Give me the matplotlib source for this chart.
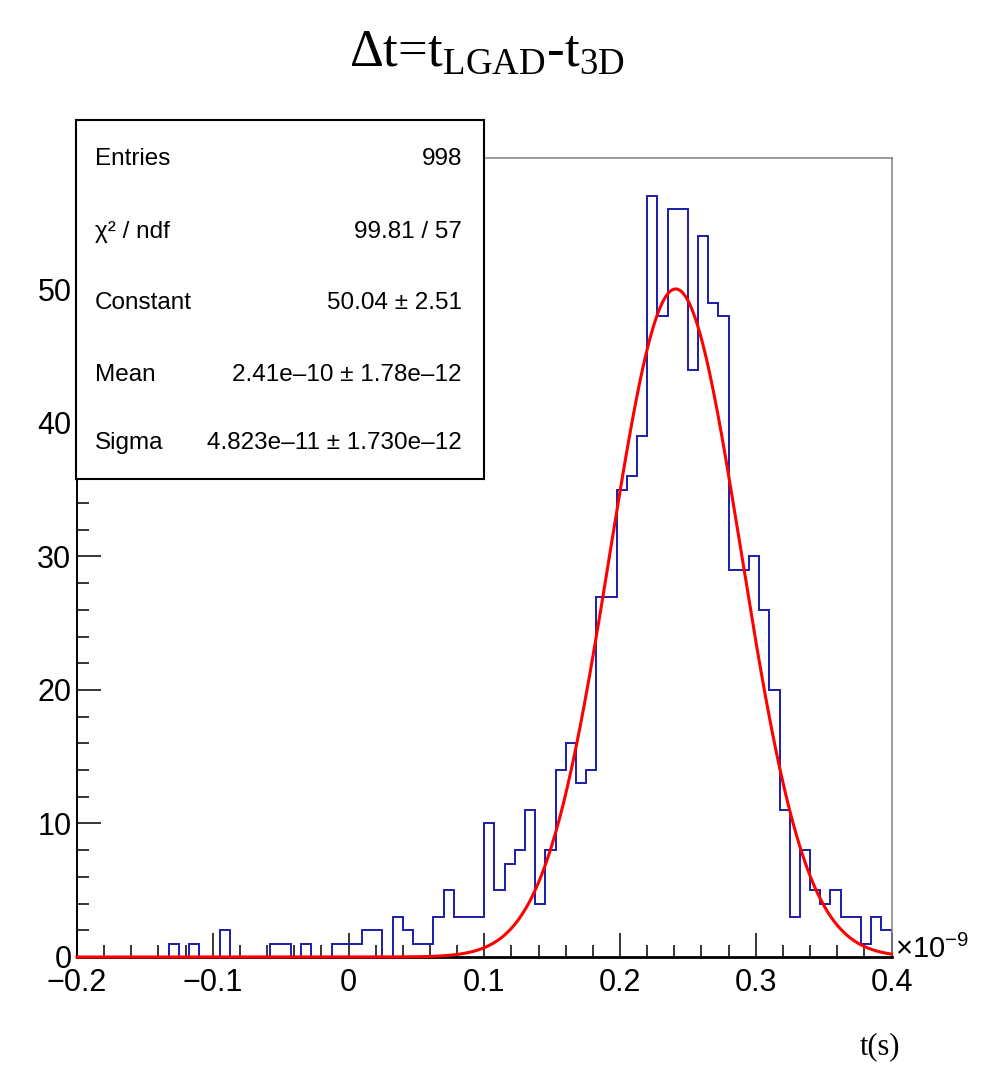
import numpy as np
import matplotlib
matplotlib.use('Agg')
import matplotlib.pyplot as plt
from matplotlib.ticker import MultipleLocator, FuncFormatter

plt.rcParams['font.family'] = ['Liberation Sans', 'DejaVu Sans']
plt.rcParams['mathtext.fontset'] = 'custom'
plt.rcParams['mathtext.rm'] = 'Liberation Serif'
plt.rcParams['mathtext.sf'] = 'Liberation Sans'

# histogram: 80 bins between -0.2 and 0.4 (x 1e-9 s)
x_min, x_max, n_bins = -0.2, 0.4, 80
counts = [0, 0, 0, 0, 0, 0, 0, 0, 0, 1,
          0, 1, 0, 0, 2, 0, 0, 0, 0, 1,
          1, 0, 1, 0, 0, 1, 1, 1, 2, 2,
          0, 3, 2, 1, 1, 3, 5, 3, 3, 3,
          10, 5, 7, 8, 11, 4, 8, 14, 16, 13,
          14, 27, 27, 35, 36, 39, 57, 48, 56, 56,
          44, 54, 49, 48, 29, 29, 30, 26, 20, 11,
          3, 8, 5, 4, 5, 3, 3, 1, 3, 2]

# gaussian fit parameters (from the stats box)
fit_const = 50.04
fit_mean = 0.241      # x 1e-9 s
fit_sigma = 0.04823   # x 1e-9 s

stat_names = ['Entries', 'χ² / ndf', 'Constant', 'Mean', 'Sigma']
stat_values = ['998', '99.81 / 57', '50.04 ± 2.51',
               '2.41e–10 ± 1.78e–12', '4.823e–11 ± 1.730e–12']

W, H = 988, 1074
fig = plt.figure(figsize=(W / 100, H / 100), dpi=100)
ax = fig.add_axes([77 / W, 1 - 957 / H, (891.5 - 77) / W, (957 - 158) / H])

edges = np.linspace(x_min, x_max, n_bins + 1)
ax.stairs(counts, edges, color='#1c1ca8', lw=1.4, zorder=2)

xf = np.linspace(x_min, x_max, 600)
ax.plot(xf, fit_const * np.exp(-0.5 * ((xf - fit_mean) / fit_sigma) ** 2),
        color='#ff0000', lw=2.2, zorder=3, clip_on=False)

ax.set_xlim(x_min, x_max)
ax.set_ylim(0, 59.85)

for s in ['top', 'right']:
    ax.spines[s].set_color('#808080')
    ax.spines[s].set_linewidth(1.1)
ax.spines['left'].set_linewidth(1.4)
ax.spines['bottom'].set_linewidth(2.0)

ax.xaxis.set_major_locator(MultipleLocator(0.1))
ax.xaxis.set_minor_locator(MultipleLocator(0.02))
ax.yaxis.set_major_locator(MultipleLocator(10))
ax.yaxis.set_minor_locator(MultipleLocator(2))
ax.tick_params(which='both', direction='in', top=False, right=False, width=1.1)
ax.tick_params(which='major', length=17, labelsize=22)
ax.tick_params(which='minor', length=8.5)
ax.tick_params(axis='x', pad=8)
ax.tick_params(axis='y', pad=4)
ax.xaxis.set_major_formatter(FuncFormatter(
    lambda v, _: '0' if abs(v) < 1e-9 else f'{v:.1f}'.replace('-', '\u2212')))

fig.text(895 / W, 1 - 958 / H, r'$\mathsf{\times10^{-9}}$', fontsize=21,
         ha='left', va='baseline')

# title and x label (serif, like ROOT)
fig.text(487 / W, 1 - 66 / H, r'Δt=t$_{\mathrm{LGAD}}$-t$_{\mathrm{3D}}$',
         family='Liberation Serif', fontsize=38, ha='center', va='baseline')
fig.text(900 / W, 1 - 1054 / H, 't(s)', family='Liberation Serif', fontsize=22,
         ha='right', va='baseline')

# stats box
sbox = fig.add_axes([76 / W, 1 - 479 / H, 408 / W, 359 / H], zorder=5)
sbox.set_xticks([])
sbox.set_yticks([])
for s in sbox.spines.values():
    s.set_linewidth(1.5)
    s.set_color('black')
row_y = [0.897, 0.696, 0.498, 0.298, 0.106]
for name, val, yy in zip(stat_names, stat_values, row_y):
    sbox.text(0.047, yy, name, fontsize=17.5, ha='left', va='center_baseline')
    sbox.text(0.946, yy, val, fontsize=17.5, ha='right', va='center_baseline')

fig.savefig('out.png', dpi=100)
